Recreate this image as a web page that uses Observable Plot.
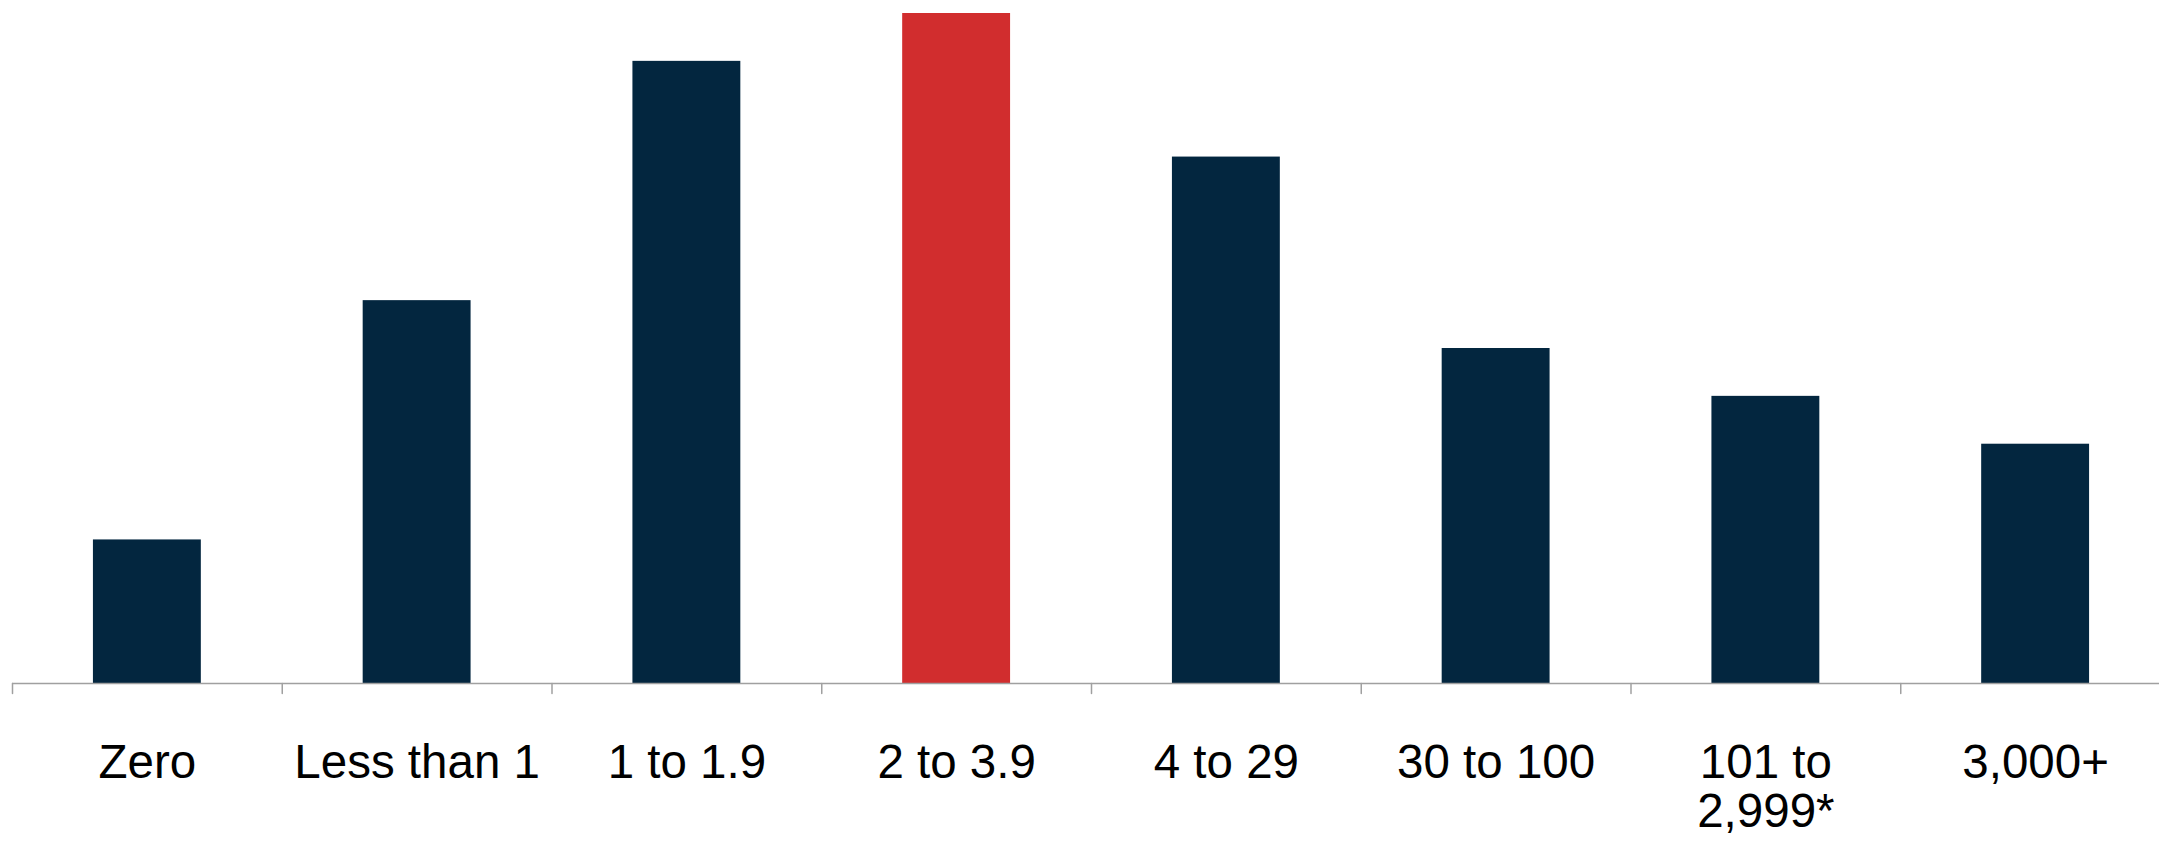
<!DOCTYPE html>
<html>
<head>
<meta charset="utf-8">
<script src="https://cdn.jsdelivr.net/npm/d3@7"></script>
<script src="https://cdn.jsdelivr.net/npm/@observablehq/plot@0.6"></script>
<style>
  html, body { margin: 0; padding: 0; background: #ffffff; overflow: hidden; }
  #chart { width: 2159px; height: 844px; overflow: hidden; }
  #chart svg { max-width: none; }
</style>
</head>
<body>
<div id="chart"></div>
<script>
// Categories along the x axis and their share values
const categories = ["Zero", "Less than 1", "1 to 1.9", "2 to 3.9", "4 to 29", "30 to 100", "101 to 2,999*", "3,000+"];
const tickLabels = ["Zero", "Less than 1", "1 to 1.9", "2 to 3.9", "4 to 29", "30 to 100", "101 to\n2,999*", "3,000+"];
const shares = [3, 8, 13, 14, 11, 7, 6, 5];
const highlighted = "2 to 3.9";

const navy = "#03263f";
const red = "#d12d2e";
const axisGray = "#a0a0a0";

const data = categories.map((category, i) => ({category, value: shares[i]}));
const labelOf = new Map(categories.map((c, i) => [c, tickLabels[i]]));

const width = 2170;
const marginLeft = 12;
const marginRight = 0;
const step = (width - marginLeft - marginRight) / categories.length;

// short tick pointing down from the baseline, drawn at each band's left edge
const tickShape = {
  draw(context, l) {
    context.moveTo(0, 0);
    context.lineTo(0, -l);
  }
};

const chart = Plot.plot({
  width,
  height: 844,
  marginLeft,
  marginRight,
  marginTop: 13,
  marginBottom: 161,
  style: {fontFamily: "'Liberation Sans', Arial, sans-serif", background: "#ffffff", color: "#000000"},
  x: {domain: categories, paddingInner: 0.6, paddingOuter: 0.3, round: false, label: null},
  y: {domain: [0, 14], axis: null},
  color: {type: "identity"},
  marks: [
    Plot.barY(data, {
      x: "category",
      y: "value",
      fill: d => d.category === highlighted ? red : navy
    }),
    Plot.ruleY([0], {stroke: axisGray, strokeWidth: 1.5}),
    Plot.vector(categories, {
      x: d => d,
      y: () => 0,
      length: 10,
      rotate: 180,
      anchor: "start",
      shape: tickShape,
      dx: -step / 2,
      stroke: axisGray,
      strokeWidth: 1.5
    }),
    Plot.axisX({
      tickSize: 0,
      tickPadding: 60,
      fontSize: 47.5,
      lineHeight: 1.03,
      fill: "#000000",
      tickFormat: d => labelOf.get(d),
      label: null
    })
  ]
});

document.getElementById("chart").appendChild(chart);
</script>
</body>
</html>
